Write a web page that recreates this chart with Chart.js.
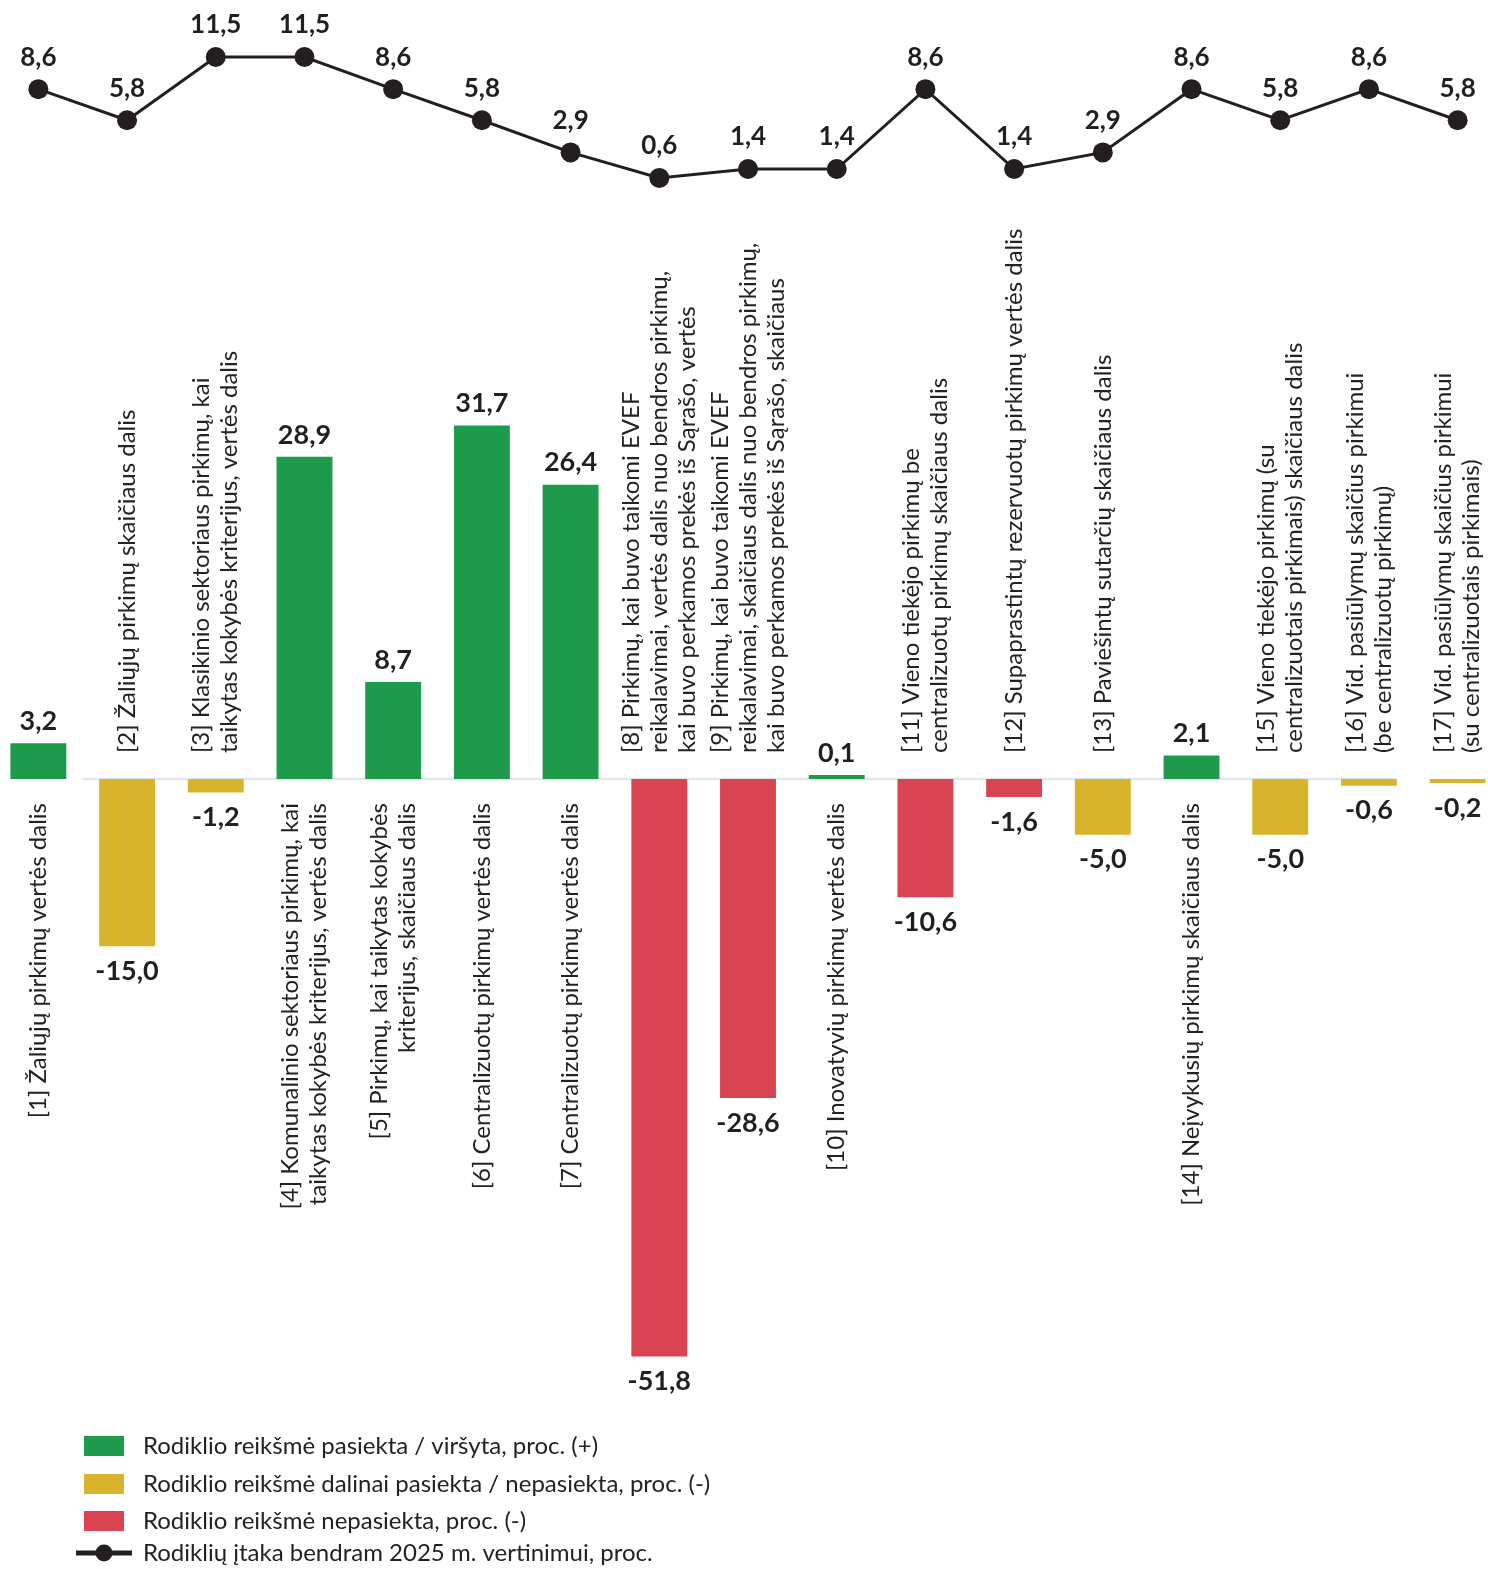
<!DOCTYPE html>
<html><head><meta charset="utf-8">
<script src="https://cdn.jsdelivr.net/npm/chart.js@4/dist/chart.umd.min.js"></script>
<style>
html,body{margin:0;padding:0;background:#fff;overflow:hidden;width:1488px;height:1569px;}
#wrap{position:absolute;left:-6px;top:0;width:1508px;height:1569px;}
</style></head><body>
<div id="wrap"><canvas id="c"></canvas></div>
<script>
// ---- DATA ----
const categories = [
  ["[1] Žaliųjų pirkimų vertės dalis"],
  ["[2] Žaliųjų pirkimų skaičiaus dalis"],
  ["[3] Klasikinio sektoriaus pirkimų, kai", "taikytas kokybės kriterijus, vertės dalis"],
  ["[4] Komunalinio sektoriaus pirkimų, kai", "taikytas kokybės kriterijus, vertės dalis"],
  ["[5] Pirkimų, kai taikytas kokybės", "kriterijus, skaičiaus dalis"],
  ["[6] Centralizuotų pirkimų vertės dalis"],
  ["[7] Centralizuotų pirkimų vertės dalis"],
  ["[8] Pirkimų, kai buvo taikomi EVEF", "reikalavimai, vertės dalis nuo bendros pirkimų,", "kai buvo perkamos prekės iš Sąrašo, vertės"],
  ["[9] Pirkimų, kai buvo taikomi EVEF", "reikalavimai, skaičiaus dalis nuo bendros pirkimų,", "kai buvo perkamos prekės iš Sąrašo, skaičiaus"],
  ["[10] Inovatyvių pirkimų vertės dalis"],
  ["[11] Vieno tiekėjo pirkimų be", "centralizuotų pirkimų skaičiaus dalis"],
  ["[12] Supaprastintų rezervuotų pirkimų vertės dalis"],
  ["[13] Paviešintų sutarčių skaičiaus dalis"],
  ["[14] Neįvykusių pirkimų skaičiaus dalis"],
  ["[15] Vieno tiekėjo pirkimų (su", "centralizuotais pirkimais) skaičiaus dalis"],
  ["[16] Vid. pasiūlymų skaičius pirkimui", "(be centralizuotų pirkimų)"],
  ["[17] Vid. pasiūlymų skaičius pirkimui", "(su centralizuotais pirkimais)"]
];
const barValues = [3.2, -15.0, -1.2, 28.9, 8.7, 31.7, 26.4, -51.8, -28.6, 0.1, -10.6, -1.6, -5.0, 2.1, -5.0, -0.6, -0.2];
const barStatus = ["pass","partial","partial","pass","pass","pass","pass","fail","fail","pass","fail","fail","partial","pass","partial","partial","partial"];
const lineValues = [8.6, 5.8, 11.5, 11.5, 8.6, 5.8, 2.9, 0.6, 1.4, 1.4, 8.6, 1.4, 2.9, 8.6, 5.8, 8.6, 5.8];
const statusColors = {pass: "#1d9a4b", partial: "#d8b42d", fail: "#d94452"};
const legendStatus = ["pass", "partial", "fail"];
const legendLabels = [
  "Rodiklio reikšmė pasiekta / viršyta, proc. (+)",
  "Rodiklio reikšmė dalinai pasiekta / nepasiekta, proc. (-)",
  "Rodiklio reikšmė nepasiekta, proc. (-)",
  "Rodiklių įtaka bendram 2025 m. vertinimui, proc."
];

const INK = "#231f20";
const fmt = v => v.toFixed(1).replace(".", ",");

const labelPlugin = {
  id: "customLabels",
  beforeDatasetsDraw(chart) {
    const ctx = chart.ctx, x = chart.scales.x, yb = chart.scales.yBar;
    const z = yb.getPixelForValue(0);
    ctx.save();
    ctx.strokeStyle = "#e2e7ed";
    ctx.lineWidth = 2.5;
    ctx.beginPath();
    const w = x.getPixelForValue(1) - x.getPixelForValue(0);
    ctx.moveTo(x.getPixelForValue(1) - w / 2, z);
    ctx.lineTo(x.getPixelForValue(15) + w * 0.3, z);
    ctx.stroke();
    ctx.restore();
  },
  afterDraw(chart) {
    const ctx = chart.ctx, x = chart.scales.x, yb = chart.scales.yBar;
    const z = yb.getPixelForValue(0);
    const barMeta = chart.getDatasetMeta(0);
    const lineMeta = chart.getDatasetMeta(1);
    ctx.save();
    // bar value labels
    ctx.fillStyle = INK;
    ctx.font = "bold 27px Lato";
    ctx.textAlign = "center";
    ctx.textBaseline = "middle";
    barMeta.data.forEach((bar, i) => {
      const v = barValues[i];
      const y = v >= 0 ? Math.min(bar.y, z - 4) - 22 : Math.max(bar.y, z + 4) + 25;
      ctx.fillText(fmt(v), bar.x, y);
    });
    // line value labels
    ctx.font = "bold 26px Lato";
    lineMeta.data.forEach((pt, i) => {
      ctx.fillText(fmt(lineValues[i]), pt.x, pt.y - 32);
    });
    // category labels (rotated)
    ctx.font = "24px Lato";
    ctx.fillStyle = "#222";
    categories.forEach((lines, i) => {
      const cx = x.getPixelForValue(i);
      const below = barValues[i] >= 0;
      ctx.save();
      ctx.translate(cx, below ? z + 24 : z - 26);
      ctx.rotate(-Math.PI / 2);
      ctx.textAlign = below ? "right" : "left";
      ctx.textBaseline = "middle";
      const n = lines.length;
      lines.forEach((t, j) => {
        ctx.fillText(t, 0, (j - (n - 1) / 2) * 28);
      });
      ctx.restore();
    });
    // legend
    const off = 6;
    const rows = [1446, 1484, 1521, 1553];
    ctx.font = "24px Lato";
    ctx.textAlign = "left";
    ctx.textBaseline = "middle";
    legendStatus.forEach((s, k) => {
      ctx.fillStyle = statusColors[s];
      ctx.fillRect(84 + off, rows[k] - 10, 40, 20);
      ctx.fillStyle = "#222";
      ctx.fillText(legendLabels[k], 143 + off, rows[k]);
    });
    const ly = rows[3];
    ctx.strokeStyle = INK; ctx.lineWidth = 5;
    ctx.beginPath(); ctx.moveTo(76 + off, ly); ctx.lineTo(132 + off, ly); ctx.stroke();
    ctx.fillStyle = INK;
    ctx.beginPath(); ctx.arc(104 + off, ly, 8.5, 0, Math.PI * 2); ctx.fill();
    ctx.fillStyle = "#222";
    ctx.fillText(legendLabels[3], 143 + off, ly);
    ctx.restore();
  }
};

new Chart(document.getElementById("c"), {
  data: {
    labels: categories.map(l => l.join(" ")),
    datasets: [
      {
        type: "bar",
        data: barValues,
        yAxisID: "yBar",
        backgroundColor: barStatus.map(s => statusColors[s]),
        borderWidth: 0,
        barPercentage: 0.63,
        categoryPercentage: 1,
        minBarLength: 4,
        order: 2
      },
      {
        type: "line",
        data: lineValues,
        yAxisID: "yLine",
        borderColor: INK,
        borderWidth: 3,
        pointRadius: 10,
        pointBackgroundColor: INK,
        pointBorderWidth: 0,
        tension: 0,
        clip: false,
        order: 1
      }
    ]
  },
  options: {
    responsive: true,
    maintainAspectRatio: false,
    animation: false,
    layout: {padding: 0, autoPadding: false},
    plugins: {legend: {display: false}, tooltip: {enabled: false}},
    scales: {
      x: {type: "category", display: false, offset: true, grid: {display: false}},
      yBar: {type: "linear", display: false, min: -70.85, max: 69.87, grid: {display: false}},
      yLine: {type: "linear", display: false, min: -124.84, max: 16.64, grid: {display: false}}
    }
  },
  plugins: [labelPlugin]
});
</script>
</body></html>
